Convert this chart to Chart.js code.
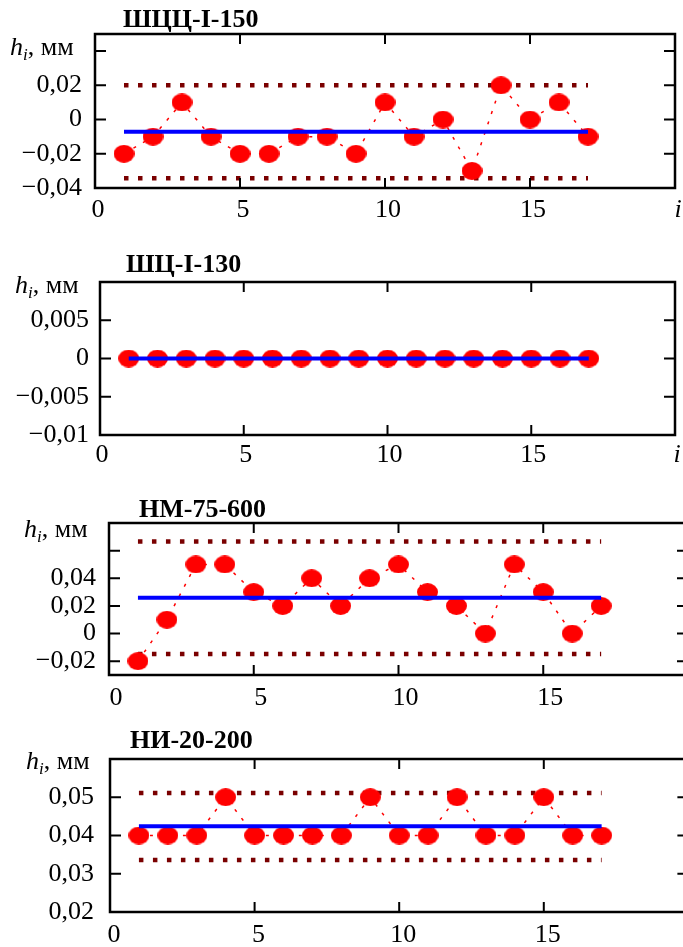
<!DOCTYPE html>
<html>
<head>
<meta charset="utf-8">
<script src="https://cdn.jsdelivr.net/npm/chart.js@4.4.1/dist/chart.umd.min.js"></script>
<style>
  html, body { margin: 0; padding: 0; background: #fff; width: 683px; height: 947px; overflow: hidden; }
  canvas { position: absolute; left: 0; }
</style>
</head>
<body>
<canvas id="p1" width="700" height="230" style="top:0px"></canvas>
<canvas id="p2" width="700" height="230" style="top:240px"></canvas>
<canvas id="p3" width="700" height="225" style="top:485px"></canvas>
<canvas id="p4" width="700" height="227" style="top:720px"></canvas>
<script>
// measurement number i
const iValues = [1, 2, 3, 4, 5, 6, 7, 8, 9, 10, 11, 12, 13, 14, 15, 16, 17];

// deviations h_i, mm
const hShcc150 = [-0.02, -0.01, 0.01, -0.01, -0.02, -0.02, -0.01, -0.01, -0.02, 0.01, -0.01, 0, -0.03, 0.02, 0, 0.01, -0.01];
const hShc130 = [0, 0, 0, 0, 0, 0, 0, 0, 0, 0, 0, 0, 0, 0, 0, 0, 0];
const hNm75 = [-0.02, 0.01, 0.05, 0.05, 0.03, 0.02, 0.04, 0.02, 0.04, 0.05, 0.03, 0.02, 0, 0.05, 0.03, 0, 0.02];
const hNi20 = [0.04, 0.04, 0.04, 0.05, 0.04, 0.04, 0.04, 0.04, 0.05, 0.04, 0.04, 0.05, 0.04, 0.04, 0.05, 0.04, 0.04];

// mean level and limits per panel
const meanLevels = [-0.0071, 0, 0.0259, 0.0424];
const upperLimits = [0.0201, null, 0.0667, 0.0511];
const lowerLimits = [-0.0343, null, -0.0148, 0.0336];
const lineStart = 1;
const lineEnd = 17;

// axes
const xTicks = [0, 5, 10, 15, 20];
const xLabels = ['0', '5', '10', '15', 'i'];
const yTicks1 = [-0.04, -0.02, 0, 0.02, 0.04];
const yLabels1 = ['−0,04', '−0,02', '0', '0,02', ''];
const yTicks2 = [-0.01, -0.005, 0, 0.005, 0.01];
const yLabels2 = ['−0,01', '−0,005', '0', '0,005', ''];
const yTicks3 = [-0.02, 0, 0.02, 0.04, 0.06];
const yLabels3 = ['−0,02', '0', '0,02', '0,04', ''];
const yTicks4 = [0.02, 0.03, 0.04, 0.05, 0.06];
const yLabels4 = ['0,02', '0,03', '0,04', '0,05', ''];

const titles = ['ШЦЦ-I-150', 'ШЦ-I-130', 'НМ-75-600', 'НИ-20-200'];

const FONT = "'Liberation Serif', 'Times New Roman', serif";

// red elliptic marker
const marker = document.createElement('canvas');
marker.width = 21;
marker.height = 18;
(function () {
  const c = marker.getContext('2d');
  c.fillStyle = '#ff0000';
  c.beginPath();
  c.ellipse(10.5, 9, 10.5, 9, 0, 0, Math.PI * 2);
  c.fill();
})();

const panels = [
  { id: 'p1', series: hShcc150, k: 0, yMin: -0.04, yMax: 0.05, yTicks: yTicks1, yLabels: yLabels1,
    area: { left: 95, right: 675, top: 34, bottom: 188 }, gap: 13, xPad: 7, xShift: 3,
    titleAt: [123, 27], labelAt: [10, 55] },
  { id: 'p2', series: hShc130, k: 1, yMin: -0.01, yMax: 0.01, yTicks: yTicks2, yLabels: yLabels2,
    area: { left: 100, right: 675, top: 42, bottom: 195 }, gap: 11, xPad: 5, xShift: 2,
    titleAt: [126, 32], labelAt: [15, 53] },
  { id: 'p3', series: hNm75, k: 2, yMin: -0.03, yMax: 0.08, yTicks: yTicks3, yLabels: yLabels3,
    area: { left: 109, right: 688, top: 38, bottom: 190 }, gap: 13, xPad: 8, xShift: 7,
    titleAt: [139, 32], labelAt: [24, 52] },
  { id: 'p4', series: hNi20, k: 3, yMin: 0.02, yMax: 0.06, yTicks: yTicks4, yLabels: yLabels4,
    area: { left: 110, right: 692, top: 39, bottom: 192 }, gap: 16, xPad: 8, xShift: 4,
    titleAt: [130, 28], labelAt: [26, 49] }
];

const framePlugin = {
  id: 'frame',
  afterDraw(chart, args, opts) {
    const { ctx, chartArea: a, scales: { x, y } } = chart;
    ctx.save();
    ctx.strokeStyle = '#000';
    ctx.lineWidth = 2;
    ctx.beginPath();
    x.ticks.forEach((t) => {
      if (t.value <= x.min || t.value >= x.max) return;
      const px = x.getPixelForValue(t.value);
      ctx.moveTo(px, a.top);
      ctx.lineTo(px, a.top + 10);
      ctx.moveTo(px, a.bottom);
      ctx.lineTo(px, a.bottom - 10);
    });
    y.ticks.forEach((t) => {
      if (t.value <= y.min || t.value >= y.max) return;
      const py = y.getPixelForValue(t.value);
      ctx.moveTo(a.left, py);
      ctx.lineTo(a.left + 11, py);
      ctx.moveTo(a.right, py);
      ctx.lineTo(a.right - 11, py);
    });
    ctx.stroke();
    ctx.lineWidth = 2.5;
    ctx.strokeRect(a.left, a.top, a.right - a.left, a.bottom - a.top);

    // panel title
    ctx.fillStyle = '#000';
    ctx.textBaseline = 'alphabetic';
    ctx.textAlign = 'left';
    ctx.font = 'bold 26px ' + FONT;
    ctx.fillText(opts.title, opts.titleAt[0], opts.titleAt[1]);

    // axis label h_i, мм
    let lx = opts.labelAt[0];
    const ly = opts.labelAt[1];
    ctx.font = 'italic 26px ' + FONT;
    ctx.fillText('h', lx, ly);
    lx += ctx.measureText('h').width;
    ctx.font = 'italic 17px ' + FONT;
    ctx.fillText('i', lx, ly + 5);
    lx += ctx.measureText('i').width;
    ctx.font = '26px ' + FONT;
    ctx.fillText(', мм', lx, ly);
    ctx.restore();
  }
};

const buildChart = (p) => {
  const canvas = document.getElementById(p.id);
  const W = canvas.width;
  const H = canvas.height;
  const points = iValues.map((v, idx) => ({ x: v, y: p.series[idx] }));
  const mean = meanLevels[p.k];

  const datasets = [
    {
      data: [{ x: lineStart, y: mean }, { x: lineEnd, y: mean }],
      showLine: true,
      borderColor: '#0000ff',
      borderWidth: 4,
      pointRadius: 0
    },
    {
      data: points,
      showLine: true,
      borderColor: '#ff0000',
      borderWidth: 1.5,
      borderDash: [3, 8],
      pointStyle: marker,
      pointRadius: 9,
      pointBackgroundColor: '#ff0000'
    }
  ];

  if (upperLimits[p.k] !== null) {
    [upperLimits[p.k], lowerLimits[p.k]].forEach((lim) => {
      datasets.push({
        data: [{ x: lineStart, y: lim }, { x: lineEnd, y: lim }],
        showLine: true,
        borderColor: '#7a0000',
        borderWidth: 4.5,
        borderDash: [4.5, 9.5],
        borderCapStyle: 'butt',
        pointRadius: 0
      });
    });
  }

  return new Chart(canvas, {
    type: 'scatter',
    data: { datasets },
    options: {
      responsive: false,
      animation: false,
      events: [],
      layout: { padding: { left: 0, top: p.area.top, right: W - p.area.right, bottom: 0 } },
      plugins: {
        legend: { display: false },
        tooltip: { enabled: false },
        frame: { title: titles[p.k], titleAt: p.titleAt, labelAt: p.labelAt }
      },
      scales: {
        x: {
          type: 'linear',
          min: 0,
          max: 20,
          grid: { display: false, drawTicks: false },
          border: { display: false },
          afterFit: (s) => { s.height = H - p.area.bottom; },
          afterBuildTicks: (s) => { s.ticks = xTicks.map((v) => ({ value: v })); },
          ticks: {
            autoSkip: false,
            maxRotation: 0,
            padding: p.xPad,
            labelOffset: p.xShift,
            color: '#000',
            font: (ctx) => ({
              family: FONT,
              size: 26,
              style: ctx.tick && ctx.tick.value === 20 ? 'italic' : 'normal'
            }),
            callback: (v, idx) => xLabels[idx]
          }
        },
        y: {
          type: 'linear',
          min: p.yMin,
          max: p.yMax,
          grid: { display: false, drawTicks: false },
          border: { display: false },
          afterFit: (s) => { s.width = p.area.left; },
          afterBuildTicks: (s) => { s.ticks = p.yTicks.map((v) => ({ value: v })); },
          ticks: {
            autoSkip: false,
            padding: p.gap,
            color: '#000',
            font: { family: FONT, size: 26 },
            callback: (v, idx) => p.yLabels[idx]
          }
        }
      }
    },
    plugins: [framePlugin]
  });
};

panels.forEach(buildChart);
</script>
</body>
</html>
